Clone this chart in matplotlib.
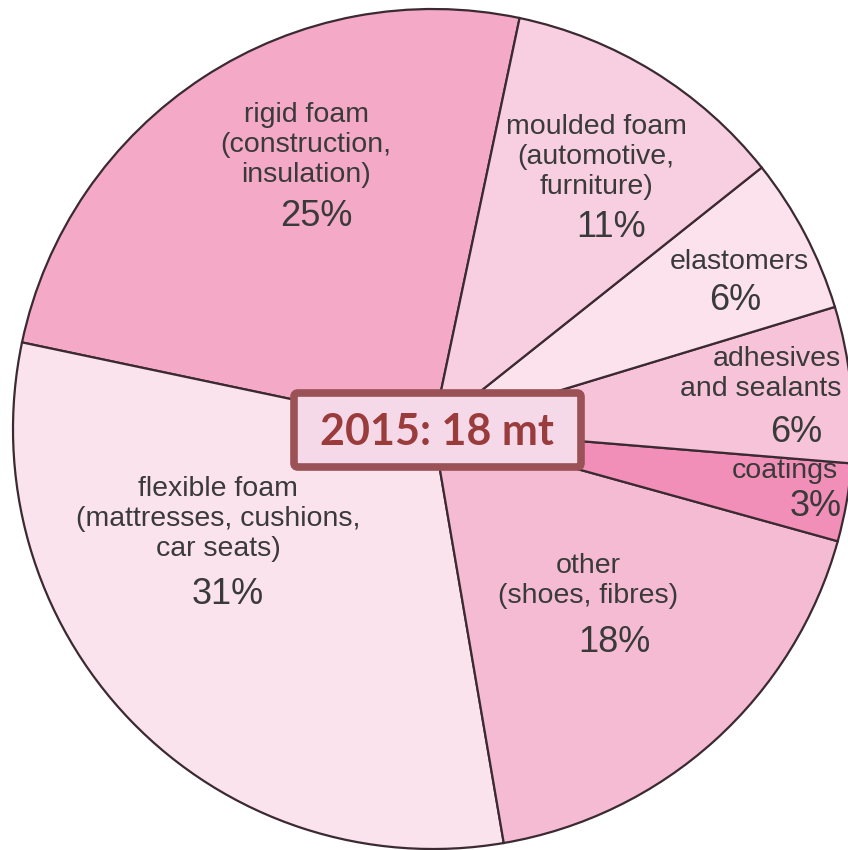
import matplotlib.pyplot as plt
from matplotlib.patches import FancyBboxPatch

labels = ['rigid foam\n(construction,\ninsulation)', 'flexible foam\n(mattresses, cushions,\ncar seats)',
          'other\n(shoes, fibres)', 'coatings', 'adhesives\nand sealants', 'elastomers',
          'moulded foam\n(automotive,\nfurniture)']
shares = [25, 31, 18, 3, 6, 6, 11]
colors = ['#f4a9c6', '#fbe3ee', '#f5bbd3', '#f18fb8', '#f6c3d8', '#fbe2ed', '#f8cfe1']
total_text = '2015: 18 mt'

# label anchors in pixel space (x, y from top = block centre), alignment
label_pos = [(306, 145, 'center'), (218, 519, 'center'), (588, 581, 'center'),
             (838, 471, 'right'), (841, 374, 'right'), (739, 262, 'center'),
             (596, 157, 'center')]
pct_pos = [(316, 216), (228, 594), (614, 642), (816, 507), (796, 432), (735, 300), (611, 227)]

W, H = 848, 850
fig = plt.figure(figsize=(W / 100, H / 100), dpi=100)
ax = fig.add_axes([0, 0, 1, 1])

ax.pie(shares, colors=colors, startangle=78.1, counterclock=True,
       center=(433, H - 429), radius=420, frame=True,
       wedgeprops=dict(edgecolor='#3b2a32', linewidth=1.6))
ax.set_xlim(0, W)
ax.set_ylim(0, H)
ax.set_aspect('equal')
ax.axis('off')

txt_color = '#3a3a3a'
for lab, (x, y, ha) in zip(labels, label_pos):
    ax.text(x, H - y, lab, ha=ha, va='center', fontsize=20.5, color=txt_color,
            family='Liberation Sans', linespacing=1.22)
for s, (x, y) in zip(shares, pct_pos):
    ax.text(x, H - y, f'{s}%', ha='center', va='center', fontsize=26,
            color=txt_color, family='Liberation Sans')

box = FancyBboxPatch((294, H - 467), 287, 74, boxstyle='round,pad=0,rounding_size=4',
                     facecolor='#f5d9e9', edgecolor='#9b5256', linewidth=5.5, zorder=5)
ax.add_patch(box)
ax.text(437, H - 432, total_text, ha='center', va='center', fontsize=31,
        fontweight='bold', color='#9a3b3c', family='Lato', zorder=6)

fig.savefig('out.png', dpi=100)
